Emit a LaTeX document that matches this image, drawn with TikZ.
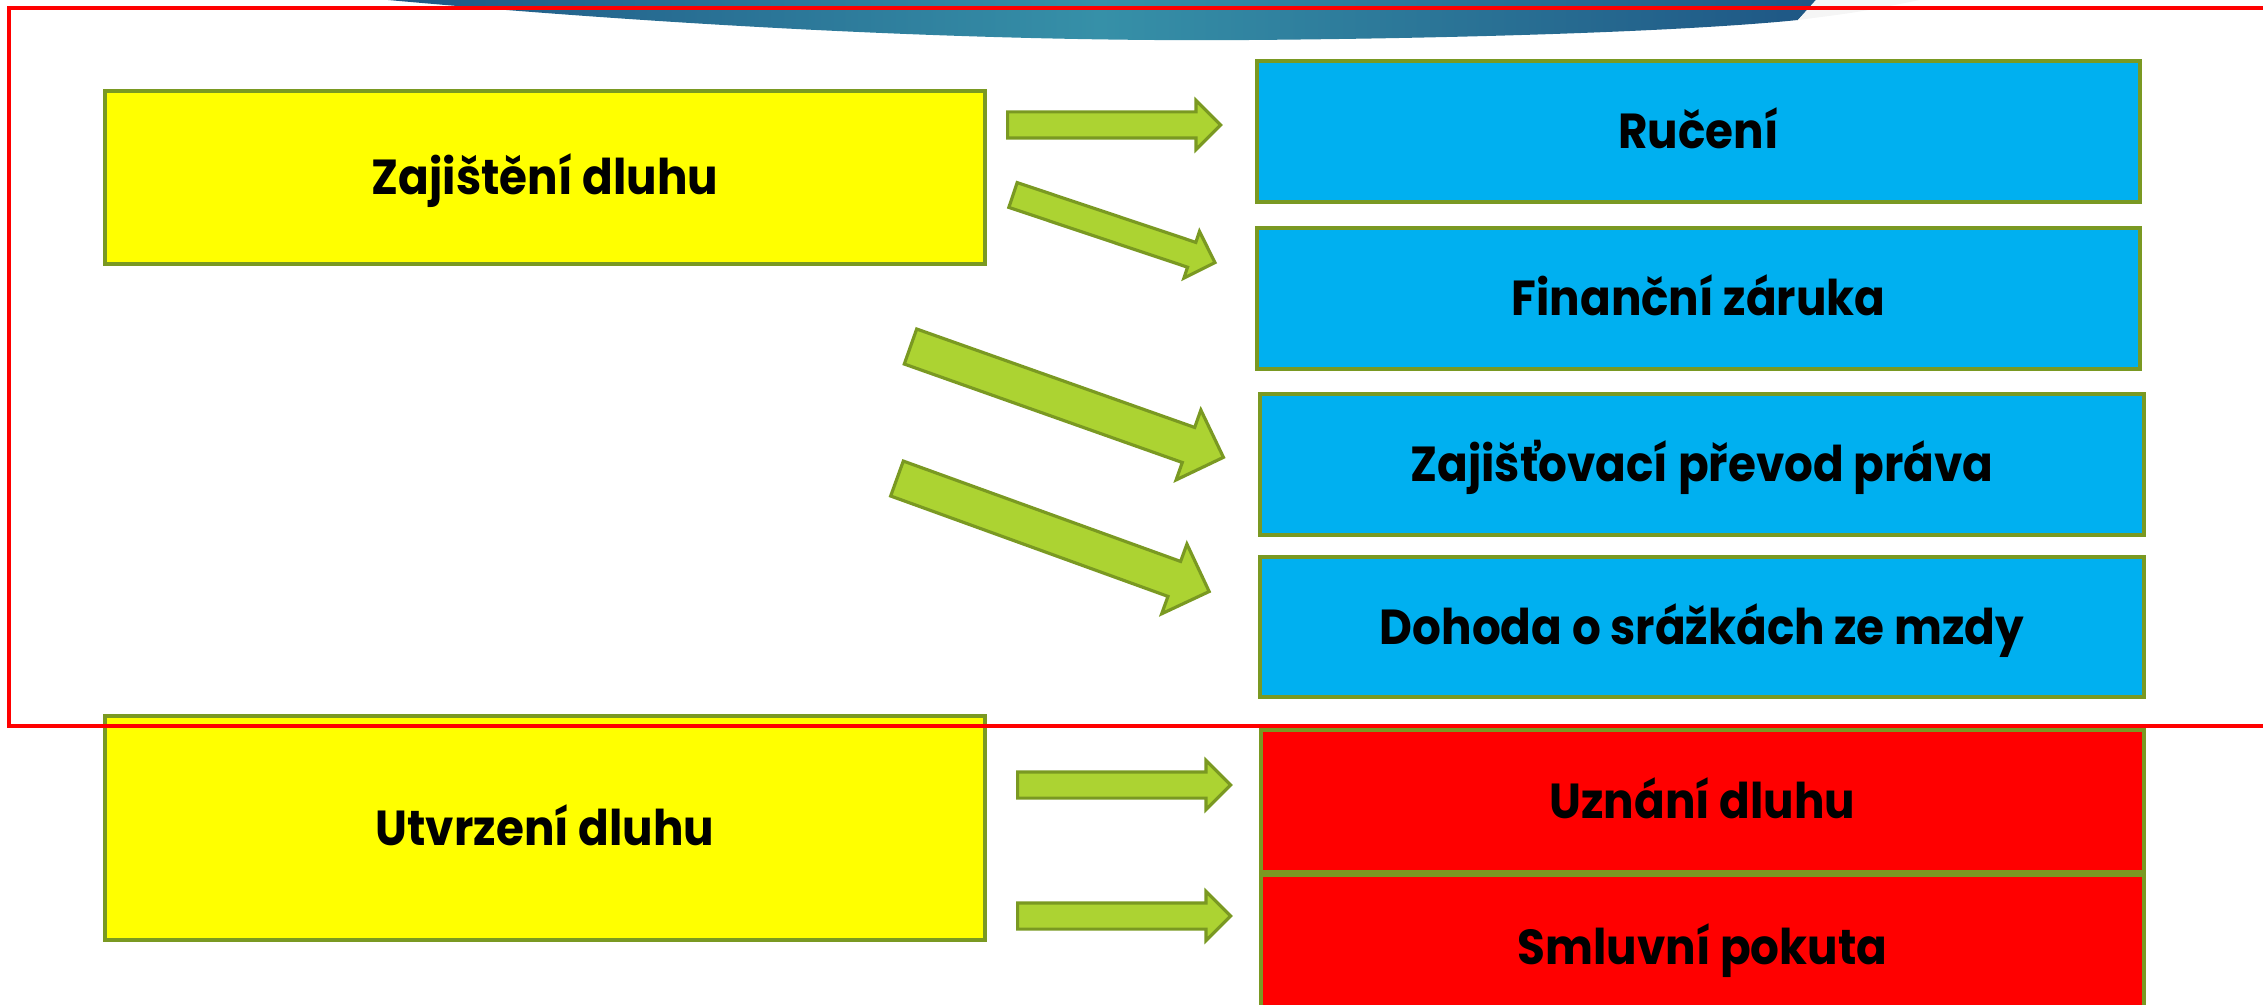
\documentclass[tikz,border=0pt]{standalone}
\usepackage{fontspec}
\setmainfont{Poppins}[FakeStretch=0.92]
\usetikzlibrary{shapes.arrows}
\definecolor{bordure}{RGB}{122,153,34}
\definecolor{vertclair}{RGB}{172,211,50}
\definecolor{bleuciel}{RGB}{0,176,240}
\definecolor{jaune}{RGB}{255,255,0}
\definecolor{rouge}{RGB}{255,0,0}
\definecolor{bandeausombre}{RGB}{30,86,132}
\definecolor{bandeauclair}{RGB}{54,144,168}
\begin{document}
\begin{tikzpicture}[font=\bfseries\fontsize{14}{16}\selectfont]
\tikzset{boite/.style={draw=bordure,line width=1pt,minimum width=8.83cm,minimum height=1.41cm,inner sep=0pt,text height=0.44cm,text depth=0.1cm}} %les cases
\tikzset{fleche/.style={single arrow,draw=bordure,fill=vertclair,line width=0.9pt,inner xsep=0pt,inner ysep=0.115cm,anchor=tail,minimum height=2.13cm,minimum width=0.46cm,single arrow head extend=0.115cm}}
\tikzset{grande/.style={inner ysep=0.17cm,minimum height=3.32cm,minimum width=0.71cm,single arrow head extend=0.185cm}}
\clip (0,0) rectangle (22.63,-10.05); %cadre de l'image

%bandeau en haut
\shade[left color=bandeausombre,right color=bandeausombre,middle color=bandeauclair] (3.8,0.1) -- (3.88,0) .. controls (7,-0.28) and (10,-0.42) .. (12.5,-0.40) .. controls (15,-0.38) and (17,-0.30) .. (17.98,-0.20) -- (18.16,0) -- (18.2,0.1) -- cycle;
\fill[gray!8] (18.16,0) -- (19.20,0) .. controls (18.6,-0.12) .. (17.98,-0.20) -- cycle;

\node[boite,fill=jaune,minimum width=8.80cm,minimum height=1.73cm] (zajisteni) at (5.45,-1.775) {Zajištění dluhu};
\node[boite,fill=jaune,minimum width=8.80cm,minimum height=2.24cm] (utvrzeni) at (5.45,-8.28) {Utvrzení dluhu};
\node[boite,fill=bleuciel] (ruceni) at (16.985,-1.315) {Ručení};
\node[boite,fill=bleuciel] (zaruka) at (16.985,-2.985) {Finanční záruka};
\node[boite,fill=bleuciel,minimum width=8.84cm] (prevod) at (17.02,-4.645) {Zajišťovací převod práva};
\node[boite,fill=bleuciel,minimum width=8.84cm,minimum height=1.40cm] (srazky) at (17.02,-6.27) {Dohoda o srážkách ze mzdy};
\node[boite,fill=rouge,minimum height=1.42cm] (uznani) at (17.025,-8.01) {Uznání dluhu};
\node[boite,fill=rouge,minimum height=1.45cm] (pokuta) at (17.025,-9.475) {Smluvní pokuta};

%les flèches
\node[fleche] (f1) at (10.06,-1.25) {};
\node[fleche,rotate=-18.5] (f2) at (10.115,-1.945) {};
\node[fleche,grande,rotate=-19.5] (f3) at (9.09,-3.46) {};
\node[fleche,grande,rotate=-19.9] (f4) at (8.955,-4.78) {};
\node[fleche] (f5) at (10.16,-7.85) {};
\node[fleche] (f6) at (10.16,-9.16) {};

\draw[rouge,line width=0.95pt] (0.09,-0.08) rectangle (23,-7.26); %cadre rouge
\end{tikzpicture}
\end{document}
